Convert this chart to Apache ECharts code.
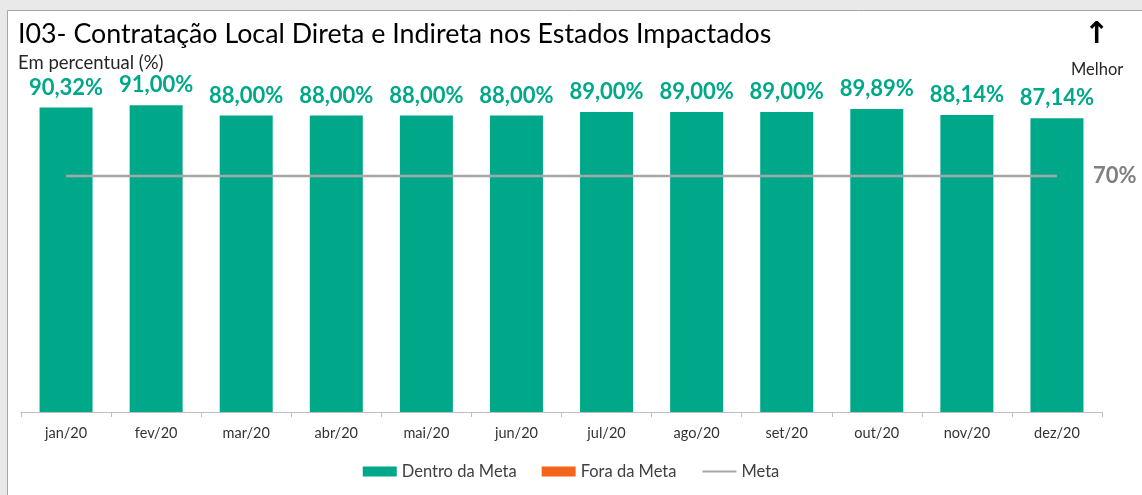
<!DOCTYPE html>
<html>
<head>
<meta charset="utf-8">
<script src="https://cdn.jsdelivr.net/npm/echarts@6/dist/echarts.min.js"></script>
<style>
  html, body { margin: 0; padding: 0; background: #fff; }
  #chart { width: 1142px; height: 495px; }
</style>
</head>
<body>
<div id="chart"></div>
<script>
const months = ['jan/20', 'fev/20', 'mar/20', 'abr/20', 'mai/20', 'jun/20', 'jul/20', 'ago/20', 'set/20', 'out/20', 'nov/20', 'dez/20'];
const dentroDaMeta = [90.32, 91.00, 88.00, 88.00, 88.00, 88.00, 89.00, 89.00, 89.00, 89.89, 88.14, 87.14];
const foraDaMeta = ['-', '-', '-', '-', '-', '-', '-', '-', '-', '-', '-', '-'];
const meta = [70, 70, 70, 70, 70, 70, 70, 70, 70, 70, 70, 70];

const font = 'Lato, "Open Sans", sans-serif';
const teal = '#00A88A';

const chart = echarts.init(document.getElementById('chart'));

const pct = v => v.toFixed(2).replace('.', ',') + '%';

chart.setOption({
  animation: false,
  textStyle: { fontFamily: font },
  title: [
    {
      text: 'I03- Contratação Local Direta e Indireta nos Estados Impactados',
      left: 13, top: 16,
      textStyle: { fontFamily: font, fontSize: 26.8, fontWeight: 'normal', color: '#000' }
    },
    {
      text: 'Em percentual (%)',
      left: 13, top: 49,
      textStyle: { fontFamily: font, fontSize: 18.5, fontWeight: 'normal', color: '#262626' }
    }
  ],
  graphic: [
    { type: 'rect', silent: true, shape: { x: 0, y: 0, width: 1142, height: 10 }, style: { fill: '#e9e9e9' } },
    { type: 'rect', silent: true, shape: { x: 0, y: 0, width: 7, height: 495 }, style: { fill: '#e9e9e9' } },
    { type: 'line', silent: true, shape: { x1: 7.5, y1: 10.5, x2: 1142, y2: 10.5 }, style: { stroke: '#a6a6a6', lineWidth: 1 } },
    { type: 'line', silent: true, shape: { x1: 7.5, y1: 10.5, x2: 7.5, y2: 495 }, style: { stroke: '#a6a6a6', lineWidth: 1 } },
    { type: 'text', left: 1084, top: 20, style: { text: '↑', fontFamily: 'DejaVu Sans', fontSize: 30, fontWeight: 'bold', fill: '#000' } },
    { type: 'text', left: 1071, top: 61, style: { text: 'Melhor', fontFamily: font, fontSize: 16.5, fill: '#262626' } }
  ],
  legend: {
    bottom: 10,
    left: 'center',
    itemWidth: 34,
    itemHeight: 10,
    itemGap: 25,
    textStyle: { fontFamily: font, fontSize: 16.5, color: '#404040' },
    data: [
      { name: 'Dentro da Meta', icon: 'rect' },
      { name: 'Fora da Meta', icon: 'rect' },
      { name: 'Meta', itemStyle: { opacity: 0 } }
    ]
  },
  grid: { left: 21, right: 40, top: 75, bottom: 83 },
  xAxis: {
    type: 'category',
    data: months,
    axisLine: { lineStyle: { color: '#bfbfbf' } },
    axisTick: { show: true, length: 5, lineStyle: { color: '#bfbfbf' } },
    axisLabel: { color: '#333', fontSize: 14.5, margin: 14, fontFamily: font }
  },
  yAxis: {
    type: 'value',
    min: 0,
    max: 100,
    show: false,
    splitLine: { show: false }
  },
  series: [
    {
      name: 'Dentro da Meta',
      type: 'bar',
      stack: 'v',
      barWidth: 53,
      data: dentroDaMeta,
      itemStyle: { color: teal },
      label: {
        show: true,
        position: 'top',
        distance: 9,
        formatter: p => pct(p.value),
        fontFamily: font,
        fontSize: 22,
        fontWeight: 'bold',
        color: teal
      }
    },
    {
      name: 'Fora da Meta',
      type: 'bar',
      stack: 'v',
      barWidth: 53,
      data: foraDaMeta,
      itemStyle: { color: '#F4641A' }
    },
    {
      name: 'Meta',
      type: 'line',
      data: meta,
      symbol: 'none',
      lineStyle: { color: '#a6a6a6', width: 2.5 },
      itemStyle: { color: '#a6a6a6' },
      endLabel: {
        show: true,
        formatter: '70%',
        distance: 36,
        fontFamily: font,
        fontSize: 22,
        fontWeight: 'bold',
        color: '#7f7f7f'
      }
    }
  ]
});
</script>
</body>
</html>
